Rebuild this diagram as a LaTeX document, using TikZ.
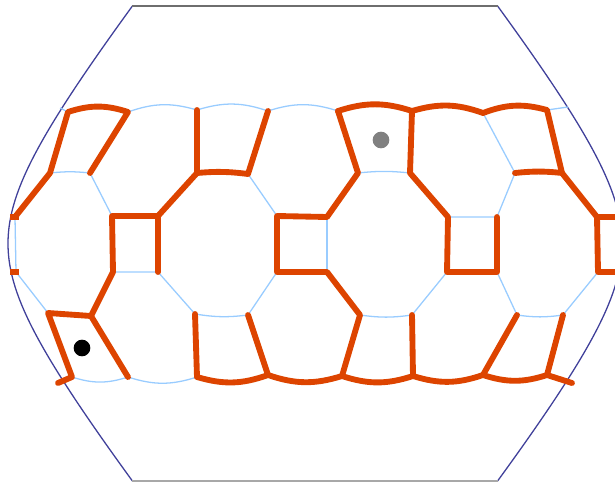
\documentclass[tikz,border=0pt]{standalone}
\usepackage{xcolor}
\definecolor{strandred}{HTML}{DD4400}
\definecolor{tileblue}{HTML}{99CCFF}
\definecolor{rimnavy}{HTML}{40409A}
\definecolor{rimgray}{HTML}{6E6E6E}
\definecolor{rimlight}{HTML}{A8A8A8}
\usepackage{tikz}
\usetikzlibrary{calc}

\begin{document}
\begin{tikzpicture}[x=0.03cm, y=-0.03cm,
    tile/.style={draw=tileblue, line width=1.1pt},
    strand/.style={draw=strandred, line width=5pt, line cap=round, line join=round},
    rim/.style={draw=rimnavy, line width=1.1pt},
    dotmark/.style={circle, inner sep=0pt, minimum size=0.5cm}]
  \clip (0,0) rectangle (615,482);
  % rim of the chart
  \draw[rim] plot[domain=-237.5:237.5, samples=80, smooth] ({8+78.9*(sqrt(1+(\x/100)^2)-1)}, {243.5+\x});
  \draw[rim] plot[domain=-237.5:237.5, samples=80, smooth] ({622-78.9*(sqrt(1+(\x/100)^2)-1)}, {243.5+\x});
  \draw[draw=rimgray, line width=1.1pt] (132,6) -- (498,6);
  \draw[draw=rimlight, line width=1.1pt] (132,481) -- (498,481);
  % top rim of the tiling
  \coordinate (tl) at (60,108);
  \coordinate (t0) at (68,112);
  \coordinate (t1) at (128,112);
  \coordinate (t2) at (197,110);
  \coordinate (t3) at (268,111);
  \coordinate (t4) at (338,111);
  \coordinate (t5) at (412,111);
  \coordinate (t6) at (483,113);
  \coordinate (t7) at (547,110);
  \coordinate (tr) at (568,107);
  % upper edges of the octagons
  \coordinate (a0) at (50,173);
  \coordinate (a1) at (90,173);
  \coordinate (a2) at (197,173);
  \coordinate (a3) at (248,174);
  \coordinate (a4) at (358,173);
  \coordinate (a5) at (410,173);
  \coordinate (a6) at (515,173);
  \coordinate (a7) at (562,173);
  % squares of the middle row
  \coordinate (m0) at (15,217);
  \coordinate (m0s) at (16,272);
  \coordinate (stubw1) at (10,217);
  \coordinate (stube1) at (19,217);
  \coordinate (stubw2) at (10,272);
  \coordinate (stube2) at (19,272);
  \coordinate (q1nw) at (112,216);
  \coordinate (q1ne) at (158,216);
  \coordinate (q1sw) at (113,272);
  \coordinate (q1se) at (158,272);
  \coordinate (q2nw) at (277,216);
  \coordinate (q2ne) at (327,217);
  \coordinate (q2sw) at (277,272);
  \coordinate (q2se) at (327,272);
  \coordinate (q3nw) at (448,217);
  \coordinate (q3ne) at (497,217);
  \coordinate (q3sw) at (447,272);
  \coordinate (q3se) at (497,272);
  \coordinate (q4nw) at (597,217);
  \coordinate (q4sw) at (598,272);
  \coordinate (q4e) at (630,217);
  \coordinate (q4f) at (630,272);
  % lower edges of the octagons
  \coordinate (b0) at (48,313);
  \coordinate (b1) at (91,316);
  \coordinate (b2) at (195,314);
  \coordinate (b3) at (248,315);
  \coordinate (b4) at (360,315);
  \coordinate (b5) at (412,315);
  \coordinate (b6) at (517,315);
  \coordinate (b7) at (563,315);
  % bottom rim of the tiling
  \coordinate (ul) at (58,383);
  \coordinate (u0) at (72,377);
  \coordinate (u1) at (128,377);
  \coordinate (u2) at (197,377);
  \coordinate (u3) at (268,375);
  \coordinate (u4) at (342,376);
  \coordinate (u5) at (413,376);
  \coordinate (u6) at (483,375);
  \coordinate (u7) at (547,375);
  \coordinate (ur) at (572,383);
  % thin tiling edges
  \draw[tile] (tl) -- (t0);
  \draw[tile] (t1) to[bend left=18] (t2) to[bend left=18] (t3) to[bend left=18] (t4);
  \draw[tile] (t7) -- (tr);
  \draw[tile] (a0) to[bend left=6] (a1) -- (q1nw);
  \draw[tile] (a3) -- (q2nw);
  \draw[tile] (a4) to[bend left=6] (a5);
  \draw[tile] (t6) -- (a6) -- (q3ne) -- (q3nw);
  \draw[tile] (m0) -- (m0s) -- (b0);
  \draw[tile] (q1sw) -- (q1se) -- (b2) to[bend right=8] (b3) -- (q2sw);
  \draw[tile] (q2ne) -- (q2se);
  \draw[tile] (b4) to[bend right=8] (b5) -- (q3sw);
  \draw[tile] (q3se) -- (b6) to[bend right=8] (b7) -- (q4sw);
  \draw[tile] (u0) to[bend right=18] (u1) to[bend right=18] (u2);
  % thick strands
  \draw[strand] (m0) -- (a0) -- (t0) to[bend left=18] (t1) -- (a1);
  \draw[strand, line cap=butt] (stubw1) -- (stube1);
  \draw[strand, line cap=butt] (stubw2) -- (stube2);
  \draw[strand] (t2) -- (a2) -- (q1ne) -- (q1nw) -- (q1sw) -- (b1) -- (b0) -- (u0) -- (ul);
  \draw[strand] (a2) to[bend left=6] (a3) -- (t3);
  \draw[strand] (q1ne) -- (q1se);
  \draw[strand] (b1) -- (u1);
  \draw[strand] (t4) -- (a4) -- (q2ne) -- (q2nw) -- (q2sw) -- (q2se) -- (b4) -- (u4);
  \draw[strand] (t4) to[bend left=18] (t5) to[bend left=18] (t6) to[bend left=18] (t7) -- (a7) -- (q4nw) -- (q4e);
  \draw[strand] (t5) -- (a5) -- (q3nw) -- (q3sw) -- (q3se) -- (q3ne);
  \draw[strand] (a6) to[bend left=6] (a7);
  \draw[strand] (q4nw) -- (q4sw) -- (q4f);
  \draw[strand] (b2) -- (u2) to[bend right=18] (u3) to[bend right=18] (u4) to[bend right=18] (u5) to[bend right=18] (u6) to[bend right=18] (u7) -- (ur);
  \draw[strand] (b3) -- (u3);
  \draw[strand] (b5) -- (u5);
  \draw[strand] (b6) -- (u6);
  \draw[strand] (b7) -- (u7);
  % start and end markers
  \node[dotmark, fill=black] (startdot) at (82,348) {};
  \node[dotmark, fill=gray] (enddot) at (381,140) {};
\end{tikzpicture}
\end{document}
